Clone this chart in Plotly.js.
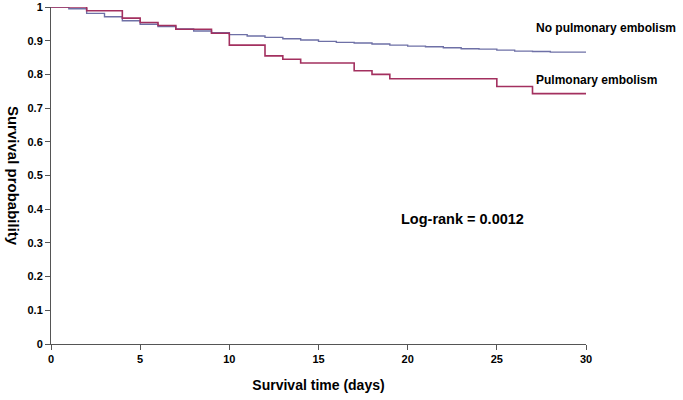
<!DOCTYPE html>
<html>
<head>
<meta charset="utf-8">
<script src="https://cdn.plot.ly/plotly-3.0.1.min.js"></script>
<style>html,body{margin:0;padding:0;background:#fff;}#chart{width:683px;height:400px;}</style>
</head>
<body>
<div id="chart"></div>
<script>
var noPeDays = [0,1,2,3,4,5,6,7,8,9,10,11,12,13,14,15,16,17,18,19,20,21,22,23,24,25,26,27,28,29,30];
var noPeSurv = [1,0.995,0.981,0.971,0.959,0.949,0.942,0.935,0.929,0.924,0.918,0.914,0.910,0.906,0.902,0.898,0.895,0.893,0.890,0.887,0.884,0.882,0.879,0.876,0.875,0.872,0.869,0.868,0.866,0.866,0.866];
var peDays = [0,2,4,5,6,7,9,10,12,13,14,17,18,19,25,27,30];
var peSurv = [1,0.989,0.967,0.954,0.945,0.934,0.922,0.887,0.855,0.845,0.834,0.811,0.800,0.787,0.764,0.743,0.743];
var xTicks = [0,5,10,15,20,25,30];
var yTicks = [0,0.1,0.2,0.3,0.4,0.5,0.6,0.7,0.8,0.9,1];

var font = "Liberation Sans, Arial, sans-serif";
var traces = [
  {x: noPeDays, y: noPeSurv, mode: 'lines', line: {shape: 'hv', color: '#6e70a6', width: 1.4}, name: 'No pulmonary embolism', hoverinfo: 'x+y'},
  {x: peDays, y: peSurv, mode: 'lines', line: {shape: 'hv', color: '#a3305f', width: 1.6}, name: 'Pulmonary embolism', hoverinfo: 'x+y'}
];
var layout = {
  width: 683, height: 400,
  margin: {l: 51, r: 97, t: 7, b: 56},
  paper_bgcolor: '#fff', plot_bgcolor: '#fff',
  showlegend: false,
  font: {family: font, color: '#000'},
  xaxis: {
    range: [0, 30], tickvals: xTicks, ticktext: xTicks.map(String),
    showgrid: false, zeroline: false, showline: true, linecolor: '#555', linewidth: 1,
    ticks: 'outside', ticklen: 5, tickcolor: '#555',
    tickfont: {family: font, size: 11, weight: 'bold'},
    title: {text: '<b>Survival time (days)</b>', font: {family: font, size: 14}, standoff: 15}
  },
  yaxis: {
    range: [0, 1], tickvals: yTicks, ticktext: yTicks.map(String),
    showgrid: false, zeroline: false, showline: true, linecolor: '#555', linewidth: 1,
    ticks: 'outside', ticklen: 5, tickcolor: '#555',
    tickfont: {family: font, size: 11, weight: 'bold'}
  },
  annotations: [
    {xref: 'paper', yref: 'paper', x: -0.07, y: 0.5, xanchor: 'center', yanchor: 'middle', textangle: 90,
     text: '<b>Survival probability</b>', showarrow: false, font: {family: font, size: 15}},
    {xref: 'x', yref: 'paper', x: 27.1, y: 1 - 21/337, xanchor: 'left', yanchor: 'middle',
     text: '<b>No pulmonary embolism</b>', showarrow: false, font: {family: font, size: 12}},
    {xref: 'x', yref: 'paper', x: 27.1, y: 1 - 73/337, xanchor: 'left', yanchor: 'middle',
     text: '<b>Pulmonary embolism</b>', showarrow: false, font: {family: font, size: 12}},
    {xref: 'x', yref: 'y', x: 19.5, y: 0.372, xanchor: 'left', yanchor: 'middle',
     text: '<b>Log-rank = 0.0012</b>', showarrow: false, font: {family: font, size: 14.5}}
  ]
};
Plotly.newPlot('chart', traces, layout, {displayModeBar: false, staticPlot: true});
</script>
</body>
</html>
